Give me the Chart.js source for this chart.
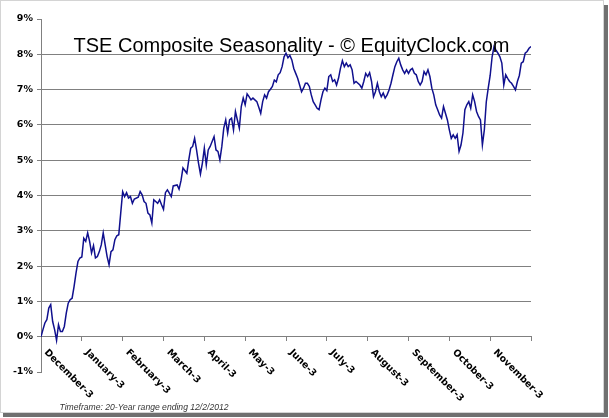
<!DOCTYPE html>
<html><head><meta charset="utf-8">
<script src="https://cdn.jsdelivr.net/npm/chart.js@4"></script>
<style>html,body{margin:0;padding:0;background:#fff}#wrap{width:609px;height:418px}</style>
</head><body><div id="wrap"><canvas id="c" width="609" height="418"></canvas></div>
<script>
const titleText = 'TSE Composite Seasonality - \u00A9 EquityClock.com';
const footerText = 'Timeframe: 20-Year range ending 12/2/2012';
const monthLabels = ['December-3','January-3','February-3','March-3','April-3','May-3','June-3','July-3','August-3','September-3','October-3','November-3'];
const monthTicks = [0,21,42,63,84,105,126,147,168,189,210,231];
const yTickValues = [-1,0,1,2,3,4,5,6,7,8,9];
// trading day index (from Dec 3) and seasonal cumulative return in %
const days = [0,1,2,3,4,5,6,7,8,9,10,11,12,13,14,15,16,17,18,19,20,21,22,23,24,25,26,27,28,29,30,31,32,33,34,35,36,37,38,39,40,41,42,43,44,45,46,47,48,50,51,52,53,54,55,56,57,58,60,61,62,63,64,65,66,67,68,70,71,72,73,75,76,77,78,79,80,81,82,83,84,85,86,87,89,90,91,92,93,94,95,96,97,98,99,100,101,102,103,104,105,106,107,108,109,111,112,113,114,115,116,117,118,119,120,121,122,123,124,125,126,127,128,129,130,131,132,133,134,135,136,137,138,139,140,141,142,143,144,145,146,147,148,149,150,151,152,153,154,155,156,157,158,159,160,161,162,164,165,166,167,168,169,170,171,172,173,174,175,176,177,178,179,180,181,182,183,184,185,186,187,188,189,190,191,192,193,194,195,196,197,198,199,200,201,202,203,204,205,206,207,208,209,210,211,212,213,214,215,216,217,218,219,220,221,222,223,224,225,226,227,228,229,230,231,232,233,234,235,236,237,238,239,240,241,242,243,244,245,246,247,248,249,250,251,252];
const values = [0.00,0.20,0.39,0.48,0.81,0.91,0.43,0.20,-0.10,0.34,0.15,0.15,0.29,0.67,0.95,1.05,1.09,1.42,1.80,2.13,2.23,2.26,2.79,2.70,2.94,2.70,2.37,2.58,2.23,2.27,2.41,2.60,2.94,2.60,2.27,2.04,2.41,2.46,2.75,2.86,2.89,3.50,4.11,3.97,4.08,3.93,3.97,3.78,3.90,3.95,4.11,4.02,3.83,3.78,3.50,3.45,3.22,3.88,3.78,3.88,3.74,3.61,4.08,4.16,4.07,3.97,4.27,4.30,4.18,4.42,4.78,4.63,5.01,5.34,5.39,5.62,5.29,4.92,4.61,4.92,5.34,4.87,5.29,5.39,5.67,5.29,5.25,5.01,5.39,5.91,6.14,5.77,6.14,6.19,5.86,6.38,6.14,5.91,6.52,6.76,6.57,6.88,6.80,6.71,6.76,6.66,6.50,6.33,6.66,6.85,6.76,6.94,7.01,7.09,7.27,7.22,7.42,7.48,7.65,7.93,8.03,7.90,7.97,7.84,7.60,7.46,7.32,7.13,6.94,7.04,7.18,7.18,7.09,6.85,6.66,6.57,6.47,6.43,6.71,6.94,7.04,6.97,7.37,7.42,7.23,7.28,7.13,7.32,7.60,7.82,7.65,7.75,7.65,7.70,7.56,7.18,7.23,7.13,7.04,7.23,7.46,7.37,7.48,7.23,6.80,6.94,7.18,6.94,6.80,6.90,6.76,6.85,6.99,7.18,7.42,7.65,7.79,7.89,7.70,7.56,7.46,7.56,7.46,7.56,7.60,7.46,7.42,7.23,7.13,7.23,7.51,7.42,7.56,7.37,7.04,6.85,6.57,6.43,6.28,6.19,6.52,6.33,6.14,5.86,5.62,5.72,5.62,5.72,5.25,5.43,5.77,6.43,6.57,6.66,6.47,6.85,6.66,6.38,6.24,6.14,5.43,5.86,6.65,7.04,7.40,7.93,8.22,8.12,8.03,7.93,7.75,7.13,7.42,7.32,7.23,7.18,7.09,6.99,7.23,7.40,7.75,7.79,8.03,8.08,8.17,8.22];

const points = days.map((d,i)=>({x:d,y:values[i]}));
const GRID = '#808080';

const decor = {
  id:'decor',
  beforeDraw(chart){
    const ctx = chart.ctx;
    ctx.save();
    ctx.fillStyle = '#fff';
    ctx.fillRect(0,0,chart.width,chart.height);
    ctx.fillStyle = '#707070';
    ctx.fillRect(604,5,4,412);
    ctx.fillRect(3,413,605,4);
    ctx.strokeStyle = '#d4d4d4';
    ctx.lineWidth = 1;
    ctx.strokeRect(0.5,0.5,603,412);
    ctx.restore();
  },
  afterDraw(chart){
    const ctx = chart.ctx;
    const xs = chart.scales.x, ys = chart.scales.y;
    const y0 = ys.getPixelForValue(0);
    ctx.save();
    ctx.fillStyle = '#000';
    ctx.font = 'bold 9.5px "DejaVu Sans"';
    ctx.textAlign = 'left';
    ctx.textBaseline = 'top';
    monthLabels.forEach((lab,i)=>{
      const px = xs.getPixelForValue(monthTicks[i]);
      ctx.save();
      ctx.translate(px+8, y0+11);
      ctx.rotate(Math.PI/4);
      ctx.fillText(lab,0,0);
      ctx.restore();
    });
    // title
    ctx.font = '20px "Liberation Sans"';
    ctx.textAlign = 'center';
    ctx.textBaseline = 'alphabetic';
    ctx.fillStyle = '#000';
    ctx.fillText(titleText, 291.5, 52);
    // footer
    ctx.font = 'italic 8.6px "Liberation Sans"';
    ctx.textAlign = 'left';
    ctx.fillStyle = '#333';
    ctx.fillText(footerText, 59.5, 410);
    ctx.restore();
  }
};

new Chart(document.getElementById('c'), {
  type:'line',
  data:{ datasets:[{ data:points, borderColor:'#10108e', borderWidth:1.5, pointRadius:0, fill:false, tension:0 }]},
  options:{
    responsive:false, devicePixelRatio:1, animation:false,
    layout:{ padding:{ left:0, top:19, right:78, bottom:46 } },
    plugins:{ legend:{display:false}, tooltip:{enabled:false}, title:{display:false} },
    scales:{
      x:{ type:'linear', min:0, max:252, position:{y:0},
          ticks:{ display:false, stepSize:21 },
          afterBuildTicks(s){ s.ticks = monthTicks.concat([252]).map(v=>({value:v})); },
          grid:{ drawOnChartArea:false, drawTicks:true, tickLength:4, tickColor:GRID },
          border:{ color:GRID, width:1 } },
      y:{ min:-1, max:9,
          afterBuildTicks(s){ s.ticks = yTickValues.map(v=>({value:v})); },
          afterFit(s){ s.width = 41; },
          ticks:{ callback:v=>v+'%', color:'#000', font:{ family:'DejaVu Sans', size:9.5, weight:'bold' }, padding:4 },
          grid:{ color:c=> (c.tick && (c.tick.value===9 || c.tick.value===-1)) ? 'rgba(0,0,0,0)' : GRID, tickColor:GRID, tickLength:4, lineWidth:1 },
          border:{ color:GRID, width:1 } }
    }
  },
  plugins:[decor]
});
</script></body></html>
